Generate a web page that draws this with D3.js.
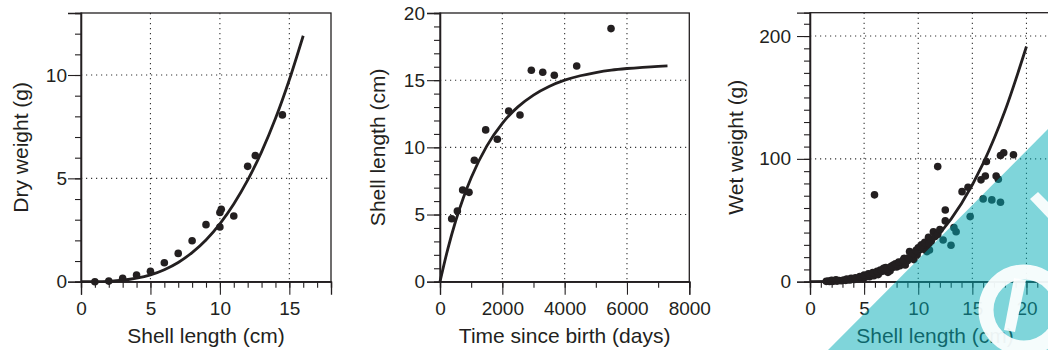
<!DOCTYPE html>
<html>
<head>
<meta charset="utf-8">
<script src="https://cdn.jsdelivr.net/npm/d3@7"></script>
<style>
  body { margin: 0; background: #fff; }
  svg { display: block; font-family: "Liberation Sans", Arial, sans-serif; }
</style>
</head>
<body>
<svg id="fig" width="1048" height="350"></svg>
<script>
// Panel 1: dry weight vs shell length
const dryLen = [1, 2, 3, 4, 5, 6, 7, 8, 9, 10, 10, 10.1, 11, 12, 12.55, 14.5];
const dryW = [0, 0.03, 0.16, 0.32, 0.5, 0.92, 1.37, 1.98, 2.76, 2.65, 3.35, 3.5, 3.18, 5.58, 6.1, 8.07];
const dryFitLen = [0, 1, 2, 3, 4, 5, 6, 7, 8, 9, 10, 11, 12, 13, 14, 15, 16];
const dryFitW = [0, 0.002, 0.02, 0.07, 0.17, 0.33, 0.58, 0.93, 1.41, 2.02, 2.8, 3.76, 4.91, 6.28, 7.89, 9.77, 11.9];

// Panel 2: shell length vs age
const ageDays = [375, 557, 727, 931, 1102, 1466, 1840, 2204, 2567, 2931, 3297, 3668, 4387, 5488];
const ageLen = [4.69, 5.26, 6.83, 6.65, 9.04, 11.3, 10.6, 12.71, 12.41, 15.74, 15.59, 15.37, 16.06, 18.84];
const ageFitDays = [0, 250, 500, 750, 1000, 1500, 2000, 2500, 3000, 3500, 4000, 4500, 5000, 5500, 6000, 6500, 7000, 7300];
const ageFitLen = [0, 2.43, 4.5, 6.25, 7.74, 10.09, 11.79, 13.01, 13.89, 14.53, 15.0, 15.33, 15.57, 15.75, 15.87, 15.96, 16.03, 16.06];

// Panel 3: wet weight vs shell length
const wetLen = [1.5, 1.7, 1.8, 2.0, 2.1, 2.3, 2.5, 2.7, 2.9, 3.1, 3.3, 3.5, 3.7, 3.9, 4.1, 4.3, 4.5, 4.7, 4.9,
  5.1, 5.3, 5.5, 5.7, 5.9, 6.1, 6.3, 6.5, 6.8, 7.0, 7.2, 7.4, 7.6, 7.7, 8.0, 8.3, 8.5, 8.7, 8.8, 9.0, 9.2,
  9.4, 9.6, 9.9, 10.0, 10.3, 10.5, 10.8, 10.95, 11.04, 11.2, 11.4, 11.55, 11.8, 12.0, 12.3, 12.5, 12.5,
  13.03, 13.3, 13.5, 14.05, 14.6, 14.8, 15.8, 16.0, 16.2, 16.3, 16.8, 17.2, 17.4, 17.6, 17.6, 17.9, 18.8,
  5.96, 11.8,
  2.0, 2.4, 3.4, 3.8, 4.2, 4.6, 5.0, 5.4, 5.8, 6.2, 6.6, 7.1, 7.5, 7.9, 8.2, 8.6, 9.1, 9.5, 9.8, 10.2, 10.6, 11.0];
const wetW = [0.3, 0.5, 0.2, 0.6, 0.3, 0.8, 0.5, 1.0, 0.8, 1.3, 1.1, 1.6, 1.4, 2.0, 1.8, 2.4, 2.2, 3.0, 2.7,
  3.6, 4.8, 4.0, 5.5, 4.8, 6.5, 5.8, 9.5, 10.9, 11.5, 7.6, 9.0, 11.5, 13.6, 12.0, 13.0, 15.5, 19.1, 13.6, 17.0, 24.5,
  20.0, 18.0, 22.0, 27.5, 30.0, 26.5, 24.5, 36.2, 25.8, 33.0, 40.7, 36.7, 38.5, 42.5, 34.0, 49.5, 58.4,
  29.7, 44.0, 40.7, 73.3, 76.9, 53.0, 82.9, 67.4, 86.1, 97.8, 66.6, 86.1, 83.4, 64.7, 102.7, 105.0, 103.3,
  70.7, 93.7,
  1.2, 1.5, 2.2, 2.8, 3.2, 4.2, 5.5, 6.5, 7.5, 8.5, 9.0, 10.5, 12.5, 14.5, 16.0, 17.5, 19.5, 23.0, 25.5, 28.0, 32.0, 31.0];
const wetFitLen = [0, 2, 4, 6, 8, 10, 12, 14, 16, 18, 20];
const wetFitW = [0, 0.15, 1.3, 4.6, 11.2, 22.4, 39.4, 63.6, 96.3, 138.7, 191.5];

const ink = "#231f20";
const svg = d3.select("#fig");

function drawPanel(cfg) {
  const g = svg.append("g").attr("transform", `translate(${cfg.left},${cfg.top})`);
  const w = cfg.width, h = cfg.height;

  const x = d3.scaleLinear().domain(cfg.xDomain).range([0, w]);
  const y = d3.scaleLinear().domain(cfg.yDomain).range([h, 0]);

  // dotted grid at the major ticks
  g.append("g").selectAll("line").data(cfg.xGrid).join("line")
    .attr("x1", d => x(d)).attr("x2", d => x(d)).attr("y1", 0).attr("y2", h)
    .attr("stroke", "#333").attr("stroke-width", 1.1).attr("stroke-dasharray", "1.2,3.8");
  g.append("g").selectAll("line").data(cfg.yGrid).join("line")
    .attr("x1", 0).attr("x2", w).attr("y1", d => y(d)).attr("y2", d => y(d))
    .attr("stroke", "#333").attr("stroke-width", 1.1).attr("stroke-dasharray", "1.2,3.8");

  // fitted curve
  const pts = cfg.fitX.map((v, i) => [v, cfg.fitY[i]]);
  g.append("path")
    .datum(pts)
    .attr("fill", "none")
    .attr("stroke", ink)
    .attr("stroke-width", 2.8)
    .attr("d", d3.line().x(d => x(d[0])).y(d => y(d[1])).curve(d3.curveMonotoneX));

  // observations
  g.append("g").selectAll("circle").data(cfg.ptX.map((v, i) => [v, cfg.ptY[i]])).join("circle")
    .attr("cx", d => x(d[0])).attr("cy", d => y(d[1])).attr("r", 3.8).attr("fill", ink);

  // box
  g.append("rect").attr("width", w).attr("height", h)
    .attr("fill", "none").attr("stroke", ink).attr("stroke-width", 1.3);

  // minor ticks
  g.append("g").attr("transform", `translate(0,${h})`)
    .call(d3.axisBottom(x).tickValues(cfg.xMinor).tickSize(6).tickFormat(""));
  g.append("g")
    .call(d3.axisLeft(y).tickValues(cfg.yMinor).tickSize(6).tickFormat(""));
  // major ticks with labels
  g.append("g").attr("class", "major").attr("transform", `translate(0,${h})`)
    .call(d3.axisBottom(x).tickValues(cfg.xMajor).tickSize(13).tickPadding(7).tickFormat(d3.format("d")));
  g.append("g").attr("class", "major")
    .call(d3.axisLeft(y).tickValues(cfg.yMajor).tickSize(13).tickPadding(cfg.yPad).tickFormat(d3.format("d")));

  g.selectAll(".domain").attr("stroke", ink).attr("stroke-width", 1.3);
  g.selectAll(".tick line").attr("stroke", ink).attr("stroke-width", 1.1);
  g.selectAll(".major text").attr("fill", ink).style("font-size", "19px").style("font-family", "Liberation Sans, Arial, sans-serif");

  // axis titles
  g.append("text")
    .attr("x", w / 2).attr("y", 343 - cfg.top)
    .attr("text-anchor", "middle").attr("fill", ink).style("font-size", "21px")
    .text(cfg.xTitle);
  g.append("text")
    .attr("transform", `translate(${-cfg.yTitleOff},${h / 2}) rotate(-90)`)
    .attr("text-anchor", "middle").attr("fill", ink).style("font-size", "21px")
    .text(cfg.yTitle);
}

drawPanel({
  left: 81, top: 13, width: 250, height: 268.7,
  xDomain: [0, 18], yDomain: [0, 13],
  xMajor: [0, 5, 10, 15], xMinor: d3.range(0, 19, 1),
  yMajor: [0, 5, 10], yMinor: d3.range(0, 14, 1),
  xGrid: [5, 10, 15], yGrid: [5, 10], yPad: 1,
  fitX: dryFitLen, fitY: dryFitW, ptX: dryLen, ptY: dryW,
  xTitle: "Shell length (cm)", yTitle: "Dry weight (g)", yTitleOff: 53
});

drawPanel({
  left: 440, top: 13, width: 249.3, height: 268.7,
  xDomain: [0, 8000], yDomain: [0, 20],
  xMajor: [0, 2000, 4000, 6000, 8000], xMinor: d3.range(0, 8001, 1000),
  yMajor: [0, 5, 10, 15, 20], yMinor: d3.range(0, 21, 1),
  xGrid: [2000, 4000, 6000], yGrid: [5, 10, 15], yPad: 2,
  fitX: ageFitDays, fitY: ageFitLen, ptX: ageDays, ptY: ageLen,
  xTitle: "Time since birth (days)", yTitle: "Shell length (cm)", yTitleOff: 55
});

drawPanel({
  left: 810, top: 12.7, width: 250, height: 269,
  xDomain: [0, 23.1], yDomain: [0, 219],
  xMajor: [0, 5, 10, 15, 20], xMinor: d3.range(0, 24, 1),
  yMajor: [0, 100, 200], yMinor: d3.range(0, 220, 10),
  xGrid: [5, 10, 15, 20], yGrid: [100, 200], yPad: 6,
  fitX: wetFitLen, fitY: wetFitW, ptX: wetLen, ptY: wetW,
  xTitle: "Shell length (cm)", yTitle: "Wet weight (g)", yTitleOff: 67
});

// publisher watermark in the corner
const wm = svg.append("g");
wm.append("path").attr("d", "M828,350 L1048,129 L1048,350 Z")
  .attr("fill", "rgb(0,171,181)").attr("fill-opacity", 0.5);
wm.append("circle").attr("cx", 1024).attr("cy", 310).attr("r", 38)
  .attr("fill", "none").attr("stroke", "#fff").attr("stroke-width", 15).attr("opacity", 0.92);
wm.append("path").attr("d", "M1014,278 L1026,280 L1015,332 L1004,330 Z")
  .attr("fill", "#fff").attr("opacity", 0.92);
wm.append("path").attr("d", "M1030,199 L1038,192 L1048,202 L1048,218 Z")
  .attr("fill", "#fff").attr("opacity", 0.92);
</script>
</body>
</html>
